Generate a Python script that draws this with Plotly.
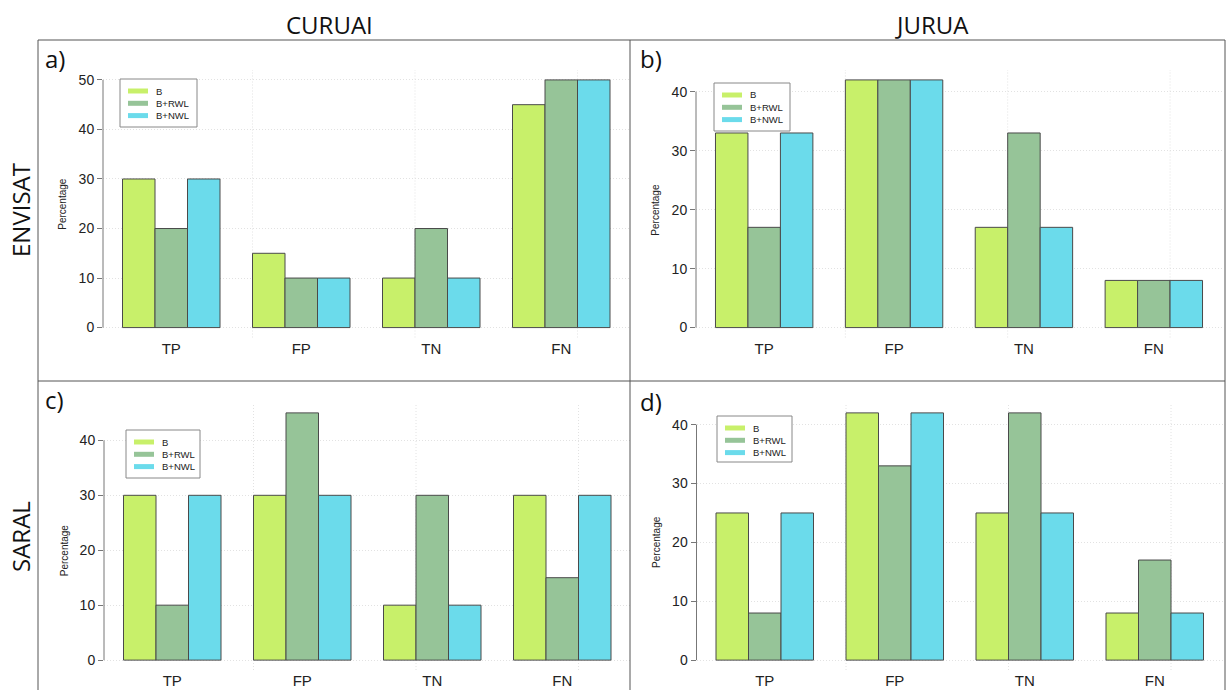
import plotly.graph_objects as go

# ---------------- data ----------------
categories = ["TP", "FP", "TN", "FN"]
series_names = ["B", "B+RWL", "B+NWL"]
series_colors = ["#C8F06A", "#96C498", "#6BDBEB"]

curuai_envisat_B = [30, 15, 10, 45]
curuai_envisat_RWL = [20, 10, 20, 50]
curuai_envisat_NWL = [30, 10, 10, 50]

jurua_envisat_B = [33, 42, 17, 8]
jurua_envisat_RWL = [17, 42, 33, 8]
jurua_envisat_NWL = [33, 42, 17, 8]

curuai_saral_B = [30, 30, 10, 30]
curuai_saral_RWL = [10, 45, 30, 15]
curuai_saral_NWL = [30, 30, 10, 30]

jurua_saral_B = [25, 42, 25, 8]
jurua_saral_RWL = [8, 33, 42, 17]
jurua_saral_NWL = [25, 42, 25, 8]

yticks_a = [0, 10, 20, 30, 40, 50]
yticks_b = [0, 10, 20, 30, 40]
yticks_c = [0, 10, 20, 30, 40]
yticks_d = [0, 10, 20, 30, 40]

column_titles = ["CURUAI", "JURUA"]
row_titles = ["ENVISAT", "SARAL"]
panel_letters = ["a)", "b)", "c)", "d)"]
y_label = "Percentage"

# ---------------- layout helpers ----------------
W, H = 1227, 690
def px(v):
    return v / W
def py(v):
    return 1 - v / H

panels = [
    dict(series=[curuai_envisat_B, curuai_envisat_RWL, curuai_envisat_NWL], ticks=yticks_a,
         xd=(103.0, 629.5), yd=(70.0, 337.5), leg=(120, 79, 197, 127), letter=(43, 58)),
    dict(series=[jurua_envisat_B, jurua_envisat_RWL, jurua_envisat_NWL], ticks=yticks_b,
         xd=(696.0, 1222.0), yd=(70.0, 337.5), leg=(714, 83, 790, 131), letter=(638, 58)),
    dict(series=[curuai_saral_B, curuai_saral_RWL, curuai_saral_NWL], ticks=yticks_c,
         xd=(104.0, 630.5), yd=(403.0, 670.0), leg=(126, 430, 200, 478), letter=(43, 399)),
    dict(series=[jurua_saral_B, jurua_saral_RWL, jurua_saral_NWL], ticks=yticks_d,
         xd=(696.5, 1223.0), yd=(403.0, 670.0), leg=(717, 416, 792, 462), letter=(638, 401)),
]

AX_FONT = "Liberation Sans, Arial, sans-serif"
TITLE_FONT = "Open Sans, DejaVu Sans, sans-serif"
GRID_COLOR = "#e2e2e2"

fig = go.Figure()
shapes = []
annotations = []
layout_axes = {}

for i, p in enumerate(panels):
    s = "" if i == 0 else str(i + 1)
    vmax = max(max(v) for v in p["series"])
    for name, color, vals in zip(series_names, series_colors, p["series"]):
        fig.add_trace(go.Bar(
            x=categories, y=vals, name=name,
            marker=dict(color=color, line=dict(color="#4a4a4a", width=1)),
            xaxis="x" + s, yaxis="y" + s, showlegend=False,
        ))
    layout_axes["xaxis" + s] = dict(
        domain=[px(p["xd"][0]), px(p["xd"][1])], type="category",
        categoryorder="array", categoryarray=categories,
        range=[-0.525, 3.525], showline=False, ticks="", showgrid=False,
        zeroline=False, anchor="y" + s,
        tickfont=dict(family=AX_FONT, size=15, color="#222"),
    )
    layout_axes["yaxis" + s] = dict(
        domain=[py(p["yd"][1]), py(p["yd"][0])],
        range=[-0.04 * vmax, 1.04 * vmax], tickvals=p["ticks"],
        ticks="outside", ticklen=5, tickcolor="#777", showline=False,
        showgrid=True, gridcolor=GRID_COLOR, griddash="1px,2px", gridwidth=1,
        zeroline=False, anchor="x" + s,
        tickfont=dict(family=AX_FONT, size=14, color="#222"),
    )
    # y axis line spanning first to last tick
    shapes.append(dict(type="line", xref="x" + s + " domain", yref="y" + s,
                       x0=0, x1=0, y0=p["ticks"][0], y1=p["ticks"][-1],
                       line=dict(color="#777", width=1)))
    # vertical dotted grid lines (at bar units 5, 10, 15)
    for gx in [0.625, 1.875, 3.125]:
        shapes.append(dict(type="line", xref="x" + s, yref="y" + s + " domain",
                           x0=gx, x1=gx, y0=0, y1=1, layer="below",
                           line=dict(color=GRID_COLOR, width=1, dash="1px,2px")))
    # y label
    annotations.append(dict(text=y_label, xref="paper", yref="y" + s,
                             x=px(p["xd"][0] - 40), y=p["ticks"][-1] / 2,
                             textangle=-90, showarrow=False,
                             font=dict(family=AX_FONT, size=10, color="#222"),
                             xanchor="center", yanchor="middle"))
    # panel letter
    annotations.append(dict(text=panel_letters[i], xref="paper", yref="paper",
                             x=px(p["letter"][0]), y=py(p["letter"][1]),
                             showarrow=False, xanchor="left", yanchor="middle",
                             font=dict(family=TITLE_FONT, size=24, color="#111")))
    # manual legend
    lx0, ly0, lx1, ly1 = p["leg"]
    shapes.append(dict(type="rect", xref="paper", yref="paper",
                       x0=px(lx0), x1=px(lx1), y0=py(ly1), y1=py(ly0),
                       line=dict(color="#888", width=1), fillcolor="white"))
    for k, (name, color) in enumerate(zip(series_names, series_colors)):
        yy = ly0 + 12 + k * 12.3
        shapes.append(dict(type="line", xref="paper", yref="paper",
                           x0=px(lx0 + 8), x1=px(lx0 + 28), y0=py(yy), y1=py(yy),
                           line=dict(color=color, width=5)))
        annotations.append(dict(text=name, xref="paper", yref="paper",
                                 x=px(lx0 + 34), y=py(yy), showarrow=False,
                                 xanchor="left", yanchor="middle",
                                 font=dict(family=AX_FONT, size=9.5, color="#222")))

# panel borders
border = dict(color="#555", width=1)
for (x0, y0, x1, y1) in [(38, 40, 1225, 40), (38, 40, 38, 690), (1225, 40, 1225, 690),
                         (630, 40, 630, 690), (38, 381, 1225, 381)]:
    shapes.append(dict(type="line", xref="paper", yref="paper",
                       x0=px(x0), x1=px(x1), y0=py(y0), y1=py(y1), line=border))

# column & row titles
for t, xc in zip(column_titles, [329, 932]):
    annotations.append(dict(text=t, xref="paper", yref="paper", x=px(xc), y=py(24),
                             showarrow=False, xanchor="center", yanchor="middle",
                             font=dict(family=TITLE_FONT, size=24, color="#111")))
for t, yc in zip(row_titles, [210, 537]):
    annotations.append(dict(text=t, xref="paper", yref="paper", x=px(20), y=py(yc),
                             showarrow=False, xanchor="center", yanchor="middle",
                             textangle=-90,
                             font=dict(family=TITLE_FONT, size=24, color="#111")))

fig.update_layout(
    width=W, height=H, margin=dict(l=0, r=0, t=0, b=0),
    paper_bgcolor="white", plot_bgcolor="white",
    barmode="group", bargap=0.25, bargroupgap=0,
    shapes=shapes, annotations=annotations, showlegend=False,
    **layout_axes,
)

fig.write_html("out.html")
